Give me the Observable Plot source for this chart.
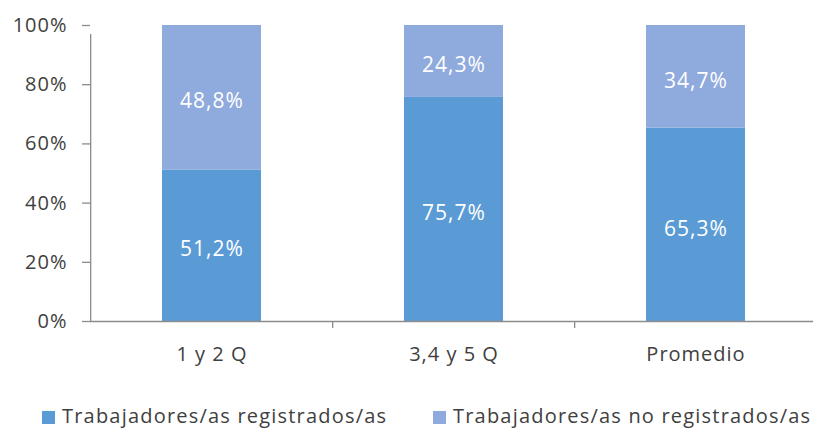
<!DOCTYPE html>
<html>
<head>
<meta charset="utf-8">
<script src="https://cdn.jsdelivr.net/npm/d3@7"></script>
<script src="https://cdn.jsdelivr.net/npm/@observablehq/plot@0.6"></script>
<style>
  html, body { margin: 0; padding: 0; background: #fff; }
  #wrap { position: relative; width: 813px; height: 428px; font-family: "Open Sans", sans-serif; }
  #legend { position: absolute; left: 0; top: 402px; width: 813px; height: 26px; font-size: 20px; color: #404040; letter-spacing: 1.2px; }
  .item { position: absolute; top: 0; display: flex; align-items: center; white-space: nowrap; }
  .sw { width: 13px; height: 13px; margin-right: 7px; margin-top: 3px; }
</style>
</head>
<body>
<div id="wrap">
  <div id="chart"></div>
  <div id="legend"></div>
</div>
<script>
const categories = ["1 y 2 Q", "3,4 y 5 Q", "Promedio"];
const seriesNames = ["Trabajadores/as registrados/as", "Trabajadores/as no registrados/as"];
const registrados = [51.2, 75.7, 65.3];
const noRegistrados = [48.8, 24.3, 34.7];
const colors = ["#5B9BD5", "#8FAADC"];
const yTicks = [0, 20, 40, 60, 80, 100];

const data = [];
categories.forEach((c, i) => data.push({cat: c, serie: seriesNames[0], value: registrados[i]}));
categories.forEach((c, i) => data.push({cat: c, serie: seriesNames[1], value: noRegistrados[i]}));

const W = 813, H = 398;
const xRange = [90, 818];
const step = (xRange[1] - xRange[0]) / categories.length;
const fmt = v => v.toFixed(1).replace(".", ",") + "%";

const chart = Plot.plot({
  width: W,
  height: H,
  marginLeft: 90,
  marginRight: 0,
  marginTop: 25,
  marginBottom: 77,
  style: {fontFamily: "Open Sans, sans-serif", color: "#404040", background: "#fff", overflow: "visible", letterSpacing: "1px"},
  x: {domain: categories, range: xRange, paddingInner: 0.59, paddingOuter: 0.295, label: null},
  y: {domain: [0, 100], label: null},
  color: {domain: seriesNames, range: colors},
  marks: [
    Plot.barY(data, {x: "cat", y: "value", fill: "serie", order: null}),
    Plot.text(data, Plot.stackY({x: "cat", y: "value", z: "serie", text: d => fmt(d.value), fill: "white", fontSize: 21, dy: 4})),
    Plot.ruleY([0], {stroke: "#8c8c8c", strokeWidth: 1.3}),
    // y-axis line (left edge of first category band)
    Plot.ruleX([categories[0]], {x: d => d, dx: -step / 2, y1: 0, y2: 100, insetBottom: -9, stroke: "#8c8c8c", strokeWidth: 1.3}),
    // category boundary ticks
    Plot.ruleX(categories.slice(1), {x: d => d, dx: -step / 2, y1: 0, y2: 0, insetBottom: -7, stroke: "#8c8c8c", strokeWidth: 1.3}),
    Plot.axisY({ticks: yTicks, tickFormat: d => d + "%", tickSize: 8, tickPadding: 15, fontSize: 20, stroke: "#8c8c8c", strokeWidth: 1.3, fill: "#404040"}),
    Plot.axisX({tickSize: 0, tickPadding: 25, fontSize: 20, fill: "#404040", style: {letterSpacing: "1.6px"}})
  ]
});
document.getElementById("chart").appendChild(chart);

const legend = document.getElementById("legend");
const legendX = [42, 433];
seriesNames.forEach((s, i) => {
  const it = document.createElement("div");
  it.className = "item";
  it.style.left = legendX[i] + "px";
  const sw = document.createElement("span");
  sw.className = "sw";
  sw.style.background = colors[i];
  const tx = document.createElement("span");
  tx.textContent = s;
  it.appendChild(sw);
  it.appendChild(tx);
  legend.appendChild(it);
});
</script>
</body>
</html>
